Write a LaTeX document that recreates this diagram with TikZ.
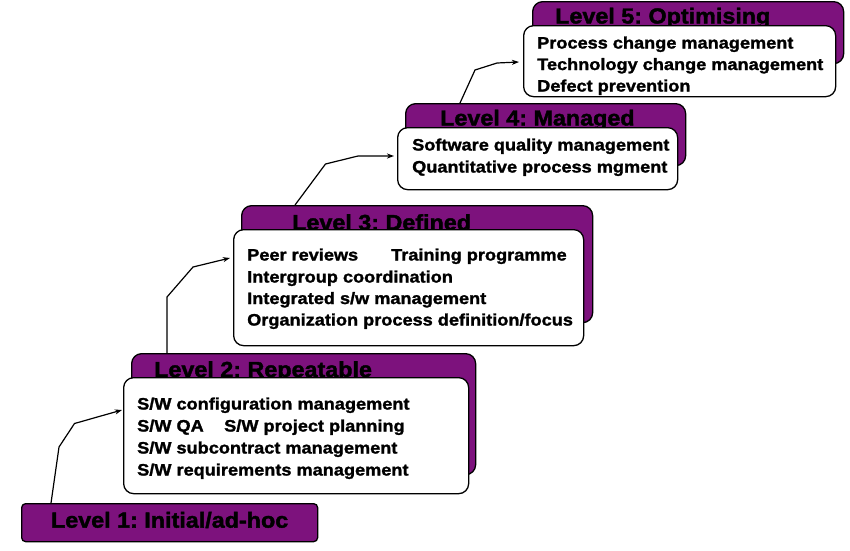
\documentclass[tikz,border=0pt]{standalone}
\usepackage{fontspec}
\setmainfont{Liberation Sans}[FakeStretch=1.10, BoldFeatures={FakeBold=1.5}]
\newfontfamily\ttlfont{Liberation Sans}[FakeStretch=1.07, BoldFeatures={FakeBold=1.8}]
\usetikzlibrary{arrows.meta,calc}
\definecolor{lvpurple}{RGB}{125,18,125}
\frenchspacing
\begin{document}
\frenchspacing
\begin{tikzpicture}[x=1pt,y=-1pt,
  pbox/.style={draw=black, line width=1.3pt, fill=lvpurple, rounded corners=10pt, inner sep=0pt, anchor=north west},
  wbox/.style={draw=black, line width=1.3pt, fill=white, rounded corners=10pt, inner sep=0pt, anchor=north west},
  ttl/.style={font=\ttlfont\fontsize{21.8}{25}\selectfont\bfseries\frenchspacing, inner sep=0pt, anchor=base west},
  itm/.style={font=\fontsize{16.5}{19}\selectfont\bfseries\frenchspacing, inner sep=0pt, anchor=base west},
  conn/.style={line width=1.2pt, -{Stealth[length=7pt,width=5pt,inset=2pt]}}]
\useasboundingbox (0,0) rectangle (850,550);

% Level 5
\node[pbox, minimum width=311, minimum height=62] (p5) at (532,1) {};
\node[ttl] (t5) at (555,23.5) {Level 5: Optimising};
\node[wbox, minimum width=312, minimum height=71] (w5) at (523,25) {};
\node[itm] (w5a) at (537,48.5) {Process change management};
\node[itm] (w5b) at (537,70) {Technology change management};
\node[itm] (w5c) at (537,91.5) {Defect prevention};

% Level 4
\node[pbox, minimum width=280, minimum height=62] (p4) at (405,103) {};
\node[ttl] (t4) at (440,125.5) {Level 4: Managed};
\node[wbox, minimum width=280, minimum height=62] (w4) at (397,127) {};
\node[itm] (w4a) at (412,150.5) {Software quality management};
\node[itm] (w4b) at (412,172.5) {Quantitative process mgment};

% Level 3
\node[pbox, minimum width=351, minimum height=117] (p3) at (241,205) {};
\node[ttl] (t3) at (292,230) {Level 3: Defined};
\node[wbox, minimum width=350, minimum height=116] (w3) at (233,229) {};
\node[itm] (w3a) at (247,260.5) {Peer reviews};
\node[itm] (w3b) at (391,260.5) {Training programme};
\node[itm] (w3c) at (247,282.5) {Intergroup coordination};
\node[itm] (w3d) at (247,304) {Integrated s/w management};
\node[itm] (w3e) at (247,325.5) {Organization process definition/focus};

% Level 2
\node[pbox, minimum width=344, minimum height=121] (p2) at (131,353) {};
\node[ttl] (t2) at (154,377) {Level 2: Repeatable};
\node[wbox, minimum width=345, minimum height=116] (w2) at (123,377) {};
\node[itm] (w2a) at (137,409.5) {S/W configuration management};
\node[itm] (w2b) at (137,431.5) {S/W QA};
\node[itm] (w2c) at (224,431.5) {S/W project planning};
\node[itm] (w2d) at (137,453.5) {S/W subcontract management};
\node[itm] (w2e) at (137,475.5) {S/W requirements management};

% Level 1
\node[pbox, rounded corners=4pt, minimum width=296, minimum height=38,
      font=\ttlfont\fontsize{21.8}{25}\selectfont\bfseries\frenchspacing, text height=15.6pt, text depth=5.6pt] (l1) at (21,503) {Level 1: Initial/ad-hoc};

% connectors
\draw[conn] ($(l1.north west)+(30,0)$) -- (59,447) -- (74.5,423.5) -- ($(w2.north west)+(-1,33)$);
\draw[conn] ($(p2.north west)+(36,0)$) -- (167,297) -- (193,267) -- ($(w3.north west)+(-3,29)$);
\draw[conn] ($(p3.north west)+(54,0)$) -- (325.5,164) -- (358,156) -- ($(w4.north west)+(-3,29)$);
\draw[conn] ($(p4.north west)+(55,0)$) -- (475,70) -- (497,63) -- ($(w5.north west)+(-4,37)$);
\end{tikzpicture}
\end{document}
